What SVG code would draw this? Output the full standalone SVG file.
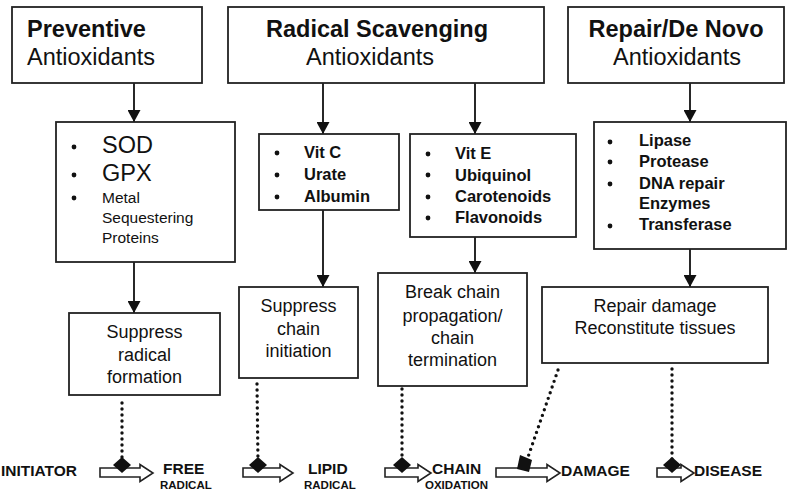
<svg xmlns="http://www.w3.org/2000/svg" width="789" height="490" viewBox="0 0 789 490">
  <defs>
    <marker id="tri" markerUnits="userSpaceOnUse" markerWidth="13" markerHeight="13" refX="12" refY="6.5" orient="auto">
      <path d="M0,0 L12,6.5 L0,13 z" fill="#111"/>
    </marker>
    <style>
      .box { fill: #fff; stroke: #222; stroke-width: 1.8; }
      .t { font-family: "Liberation Sans", Arial, sans-serif; fill: #111; }
      .head { font-size: 23.5px; font-weight: bold; }
      .sub { font-size: 23.5px; }
      .big { font-size: 23.5px; }
      .small { font-size: 15.5px; }
      .item { font-size: 16.5px; font-weight: bold; }
      .res { font-size: 18px; text-anchor: middle; }
      .stage { font-size: 15.5px; font-weight: bold; }
      .low { font-size: 11.5px; font-weight: bold; }
      .link { stroke: #111; stroke-width: 1.8; fill: none; marker-end: url(#tri); }
      .dots { stroke: #111; stroke-width: 3.4; fill: none; stroke-linecap: round; stroke-dasharray: 0 6; }
      .block { fill: #fff; stroke: #222; stroke-width: 1.6; stroke-linejoin: miter; }
      .dia { fill: #111; }
      .bul { fill: #111; }
    </style>
  </defs>
  <rect width="789" height="490" fill="#fff"/>

  <!-- solid and dotted connectors -->
  <g id="connectors">
    <line class="link" x1="134" y1="83" x2="134" y2="122"/>
    <line class="link" x1="323" y1="83" x2="323" y2="134"/>
    <line class="link" x1="475" y1="83" x2="475" y2="134"/>
    <line class="link" x1="690" y1="83" x2="690" y2="122"/>
    <line class="link" x1="134" y1="262" x2="134" y2="313"/>
    <line class="link" x1="323" y1="210" x2="323" y2="287"/>
    <line class="link" x1="475" y1="237" x2="475" y2="273"/>
    <line class="link" x1="690" y1="249" x2="690" y2="287"/>

    <path class="dots" d="M122,403 L122,462"/>
    <path class="dots" d="M257,384 L258,462"/>
    <path class="dots" d="M402,389 L402,462"/>
    <path class="dots" d="M558,370 L527,460"/>
    <path class="dots" d="M672,369 L672,462"/>
  </g>

  <!-- top row -->
  <g id="preventive">
    <rect class="box" x="12" y="7" width="190" height="76"/>
    <text class="t head" x="27" y="37">Preventive</text>
    <text class="t sub" x="27" y="65">Antioxidants</text>
  </g>
  <g id="scavenging">
    <rect class="box" x="228" y="7" width="316" height="76"/>
    <text class="t head" x="377" y="37" text-anchor="middle">Radical Scavenging</text>
    <text class="t sub" x="370" y="65" text-anchor="middle">Antioxidants</text>
  </g>
  <g id="repair">
    <rect class="box" x="568" y="7" width="216" height="76"/>
    <text class="t head" x="676" y="37" text-anchor="middle">Repair/De Novo</text>
    <text class="t sub" x="677" y="65" text-anchor="middle">Antioxidants</text>
  </g>

  <!-- middle row -->
  <g id="enzymes">
    <rect class="box" x="56" y="122" width="179" height="140"/>
    <circle class="bul" cx="74" cy="147" r="2.4"/>
    <circle class="bul" cx="74" cy="175" r="2.4"/>
    <circle class="bul" cx="74" cy="198" r="2.4"/>
    <text class="t big" x="102" y="153">SOD</text>
    <text class="t big" x="102" y="181">GPX</text>
    <text class="t small" x="102" y="203">Metal</text>
    <text class="t small" x="102" y="223">Sequestering</text>
    <text class="t small" x="102" y="243">Proteins</text>
  </g>
  <g id="water-soluble">
    <rect class="box" x="259" y="134" width="140" height="76"/>
    <circle class="bul" cx="277" cy="153" r="2.4"/>
    <circle class="bul" cx="277" cy="175" r="2.4"/>
    <circle class="bul" cx="277" cy="197" r="2.4"/>
    <text class="t item" x="304" y="158">Vit C</text>
    <text class="t item" x="304" y="180">Urate</text>
    <text class="t item" x="304" y="202">Albumin</text>
  </g>
  <g id="lipid-soluble">
    <rect class="box" x="410" y="134" width="166" height="103"/>
    <circle class="bul" cx="428" cy="154" r="2.4"/>
    <circle class="bul" cx="428" cy="175" r="2.4"/>
    <circle class="bul" cx="428" cy="197" r="2.4"/>
    <circle class="bul" cx="428" cy="218" r="2.4"/>
    <text class="t item" x="455" y="159">Vit E</text>
    <text class="t item" x="455" y="181">Ubiquinol</text>
    <text class="t item" x="455" y="202">Carotenoids</text>
    <text class="t item" x="455" y="223">Flavonoids</text>
  </g>
  <g id="repair-enzymes">
    <rect class="box" x="594" y="122" width="192" height="127"/>
    <circle class="bul" cx="610" cy="142" r="2.4"/>
    <circle class="bul" cx="610" cy="162" r="2.4"/>
    <circle class="bul" cx="610" cy="184" r="2.4"/>
    <circle class="bul" cx="610" cy="226" r="2.4"/>
    <text class="t item" x="639" y="146">Lipase</text>
    <text class="t item" x="639" y="167">Protease</text>
    <text class="t item" x="639" y="189">DNA repair</text>
    <text class="t item" x="639" y="209">Enzymes</text>
    <text class="t item" x="639" y="230">Transferase</text>
  </g>

  <!-- effect row -->
  <g id="suppress-radical">
    <rect class="box" x="69" y="313" width="151" height="82"/>
    <text class="t res" x="144.5" y="338">Suppress</text>
    <text class="t res" x="144.5" y="361">radical</text>
    <text class="t res" x="144.5" y="383">formation</text>
  </g>
  <g id="suppress-chain">
    <rect class="box" x="239" y="287" width="119" height="91"/>
    <text class="t res" x="298.5" y="312">Suppress</text>
    <text class="t res" x="298.5" y="335">chain</text>
    <text class="t res" x="298.5" y="357">initiation</text>
  </g>
  <g id="break-chain">
    <rect class="box" x="378" y="273" width="149" height="113"/>
    <text class="t res" x="452.5" y="298">Break chain</text>
    <text class="t res" x="452.5" y="322">propagation/</text>
    <text class="t res" x="452.5" y="344">chain</text>
    <text class="t res" x="452.5" y="366">termination</text>
  </g>
  <g id="repair-damage">
    <rect class="box" x="542" y="287" width="226" height="76"/>
    <text class="t res" x="655" y="312">Repair damage</text>
    <text class="t res" x="655" y="334">Reconstitute tissues</text>
  </g>

  <!-- oxidation sequence along the bottom -->
  <g id="initiator">
    <text class="t stage" x="1" y="476">INITIATOR</text>
  </g>
  <g id="step1">
    <path class="block" d="M100,468 H140 V464.5 L153,473 L140,481.5 V477 H100 Z"/>
    <path class="dia" d="M122,457 L131,465 L122,473 L113,465 Z"/>
  </g>
  <g id="free-radical">
    <text class="t stage" x="163" y="474">FREE</text>
    <text class="t low" x="160" y="488.5">RADICAL</text>
  </g>
  <g id="step2">
    <path class="block" d="M243,468 H280 V464.5 L293,473 L280,481.5 V477 H243 Z"/>
    <path class="dia" d="M258,457 L267,465 L258,473 L249,465 Z"/>
  </g>
  <g id="lipid-radical">
    <text class="t stage" x="308" y="474">LIPID</text>
    <text class="t low" x="304" y="488.5">RADICAL</text>
  </g>
  <g id="step3">
    <path class="block" d="M385,468 H418 V464.5 L431,473 L418,481.5 V477 H385 Z"/>
    <path class="dia" d="M402,457 L411,465 L402,473 L393,465 Z"/>
  </g>
  <g id="chain-oxidation">
    <text class="t stage" x="432" y="474">CHAIN</text>
    <text class="t low" x="425" y="488.5">OXIDATION</text>
  </g>
  <g id="step4">
    <path class="block" d="M496,468 H547 V464.5 L560,473 L547,481.5 V477 H496 Z"/>
    <path class="dia" d="M520,455 L532,460 L529,472 L517,469 Z"/>
  </g>
  <g id="damage">
    <text class="t stage" x="561" y="476">DAMAGE</text>
  </g>
  <g id="step5">
    <path class="block" d="M657,468 H681 V464.5 L694,473 L681,481.5 V477 H657 Z"/>
    <path class="dia" d="M672,457 L681,465 L672,473 L663,465 Z"/>
  </g>
  <g id="disease">
    <text class="t stage" x="694" y="476">DISEASE</text>
  </g>
</svg>
